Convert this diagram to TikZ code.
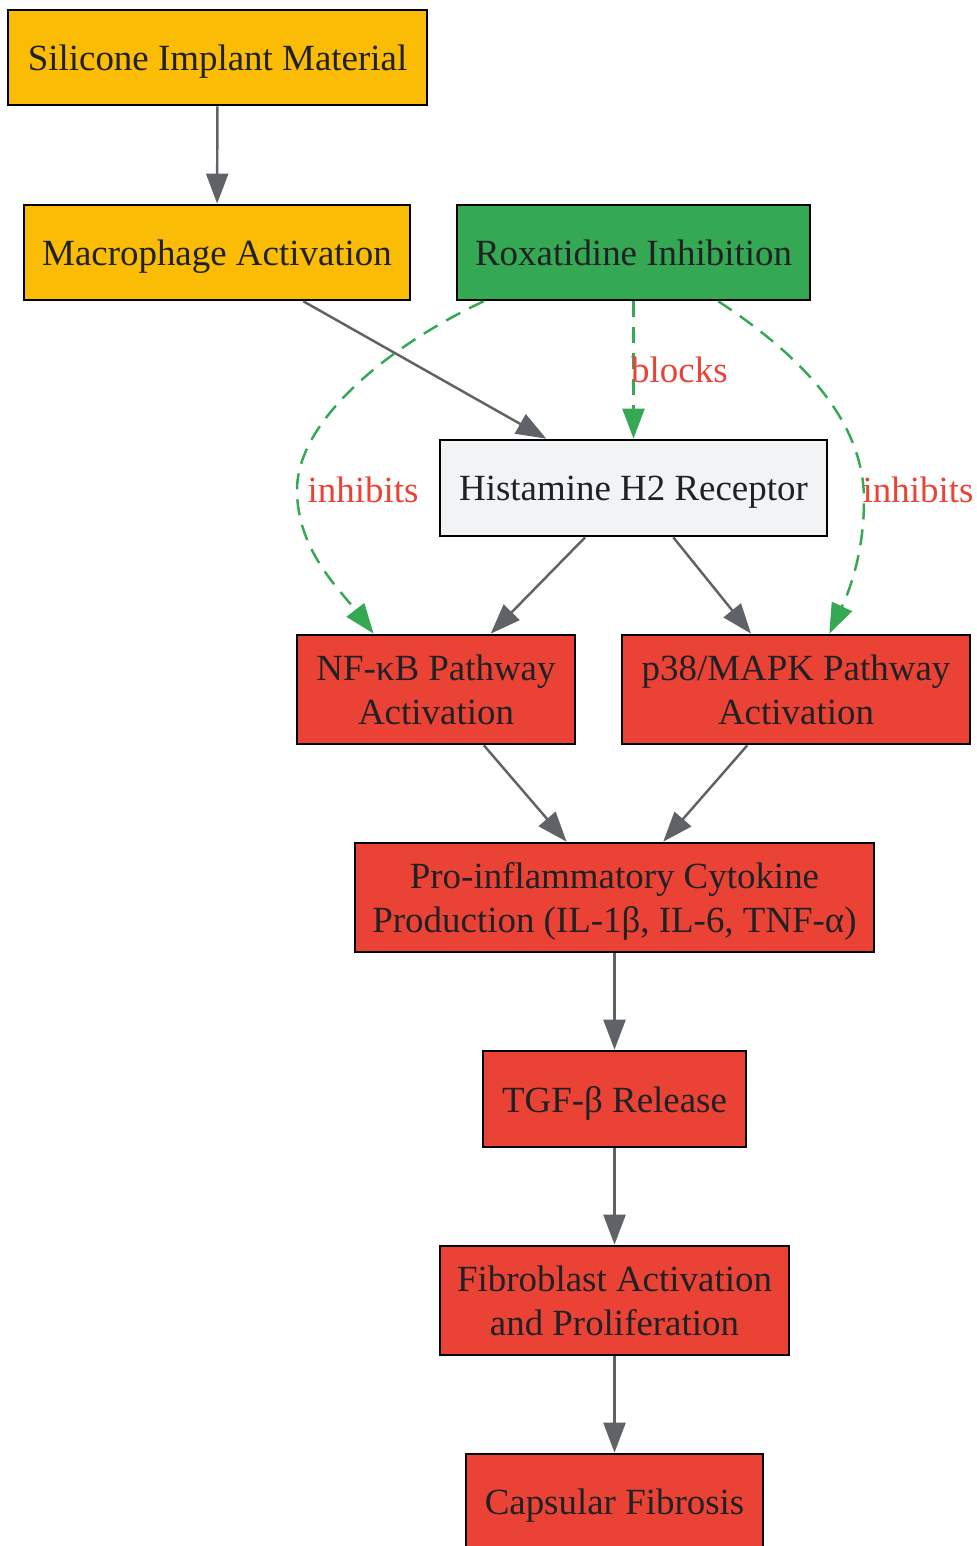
\documentclass[tikz,border=0pt]{standalone}
\usepackage{fontspec}
\setmainfont{Liberation Serif}
\usetikzlibrary{arrows.meta}
\definecolor{gyellow}{HTML}{FBBC05}
\definecolor{ggreen}{HTML}{34A853}
\definecolor{gred}{HTML}{EA4335}
\definecolor{ggrey}{HTML}{F1F3F4}
\definecolor{gedge}{HTML}{5F6368}
\definecolor{gtext}{HTML}{202124}
\tikzset{
  box/.style={draw=black, line width=0.75pt, inner sep=0pt, align=center, text depth=0pt,
    text=gtext, font=\fontsize{10.5}{12.5}\selectfont},
  yel/.style={box, fill=gyellow},
  grn/.style={box, fill=ggreen},
  redb/.style={box, fill=gred},
  gry/.style={box, fill=ggrey},
  conn/.style={draw=gedge, line width=0.7pt, -{Triangle[length=3mm,width=2.2mm]}},
  inh/.style={draw=ggreen, line width=0.7pt, dash pattern=on 1.6mm off 1.0mm,
    -{Triangle[length=3mm,width=2.2mm]}},
  lbl/.style={text=gred, inner sep=1pt, font=\fontsize{10.5}{12.5}\selectfont},
}
\begin{document}
\begin{tikzpicture}[x=0.01cm, y=-0.01cm]
\useasboundingbox (0,0) rectangle (976,1546);
\node[yel, minimum width=4.19cm, minimum height=0.95cm] (sil) at (217.5,57.5) {Silicone Implant Material};
\node[yel, minimum width=3.86cm, minimum height=0.95cm] (mac) at (217,252.5) {Macrophage Activation};
\node[grn, minimum width=3.53cm, minimum height=0.95cm] (rox) at (633.5,252.5) {Roxatidine Inhibition};
\node[gry, minimum width=3.87cm, minimum height=0.96cm] (his) at (633.5,488) {Histamine H2 Receptor};
\node[redb, minimum width=2.78cm, minimum height=1.09cm] (nfk) at (436,689.5) {NF-κB Pathway\\Activation};
\node[redb, minimum width=3.48cm, minimum height=1.09cm] (p38) at (796,689.5) {p38/MAPK Pathway\\Activation};
\node[redb, minimum width=5.19cm, minimum height=1.09cm] (pro) at (614.5,897.5) {Pro-inflammatory Cytokine\\Production (IL-1β, IL-6, TNF-α)};
\node[redb, minimum width=2.63cm, minimum height=0.96cm] (tgf) at (614.5,1099) {TGF-β Release};
\node[redb, minimum width=3.49cm, minimum height=1.09cm] (fib) at (614.5,1300.5) {Fibroblast Activation\\and Proliferation};
\node[redb, minimum width=2.97cm, minimum height=0.95cm] (cap) at (614.5,1501.5) {Capsular Fibrosis};

\draw[conn] (sil) -- (mac);
\draw[conn] (mac) -- (his);
\draw[conn] (his) -- (nfk);
\draw[conn] (his) -- (p38);
\draw[conn] (nfk) -- (pro);
\draw[conn] (p38) -- (pro);
\draw[conn] (pro) -- (tgf);
\draw[conn] (tgf) -- (fib);
\draw[conn] (fib) -- (cap);

\draw[inh] (rox) -- (his) node[lbl, pos=0.5, right=-2pt] (lb) {blocks};
\draw[inh] ([xshift=0.28cm]rox.south west) .. controls (390,345) and (297,420) .. (297,490)
   .. controls (297,550) and (340,590) .. ([xshift=0.78cm]nfk.north west);
\draw[inh] ([xshift=-0.93cm]rox.south east) .. controls (800,355) and (864,420) .. (864,500)
   .. controls (864,560) and (845,600) .. ([xshift=-1.42cm]p38.north east);
\node[lbl] (li1) at (363,490) {inhibits};
\node[lbl] (li2) at (918,490) {inhibits};
\end{tikzpicture}
\end{document}
